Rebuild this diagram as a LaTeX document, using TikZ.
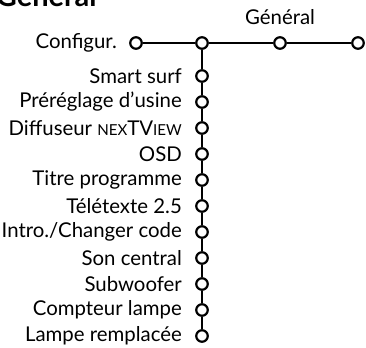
\documentclass[tikz,border=0pt]{standalone}
\usepackage{fontspec}
\setmainfont{Lato}
\usetikzlibrary{positioning}

% fake small caps for the NexTView name
\newcommand{\smcap}[1]{{\fontsize{8.6}{9}\selectfont #1}}

\tikzset{
  dot/.style={circle,draw,fill=white,line width=1.25pt,minimum size=0.23cm,inner sep=0pt},
  item/.style={inner sep=0pt,font=\fontsize{11.6}{14}\selectfont},
  link/.style={line width=1.25pt}
}

\begin{document}
\begin{tikzpicture}[x=0.02cm,y=-0.02cm]

% page size of the reference
\useasboundingbox (0,0) rectangle (366,348);
\clip (0,0) rectangle (366,348);

% title, cut at the top edge
\node[anchor=base east,inner sep=0pt,font=\fontsize{16.5}{20}\selectfont\bfseries] (title) at (97,7) {Général};

% top row of the menu
\node[dot] (conf) at (136,43) {};
\node[dot] (top) at (202,43) {};
\node[dot] (gen) at (280,43) {};
\node[dot] (last) at (358,43) {};
\node[item,left=0.24cm of conf] (conflabel) {Configur.};
\node[item,above=0.22cm of gen] (genlabel) {Général};

\draw[link] (conf) -- (top);
\draw[link] (top) -- (gen);
\draw[link] (gen) -- (last);

% sub menu items along the vertical line
\foreach \i/\txt in {1/Smart surf,2/Préréglage d’usine,3/{Diffuseur \smcap{NEX}TV\smcap{IEW}},4/OSD,5/Titre programme,6/Télétexte 2.5,7/{Intro./Changer code},8/Son central,9/Subwoofer,10/Compteur lampe,11/Lampe remplacée}
{
  \node[dot] (s\i) at (202,50+26*\i) {};
  \node[item,left=0.26cm of s\i] (l\i) {\txt};
}

% vertical line
\draw[link] (top) -- (s1);
\foreach \i [evaluate=\i as \j using int(\i+1)] in {1,...,10}
\draw[link] (s\i) -- (s\j);

\end{tikzpicture}
\end{document}
